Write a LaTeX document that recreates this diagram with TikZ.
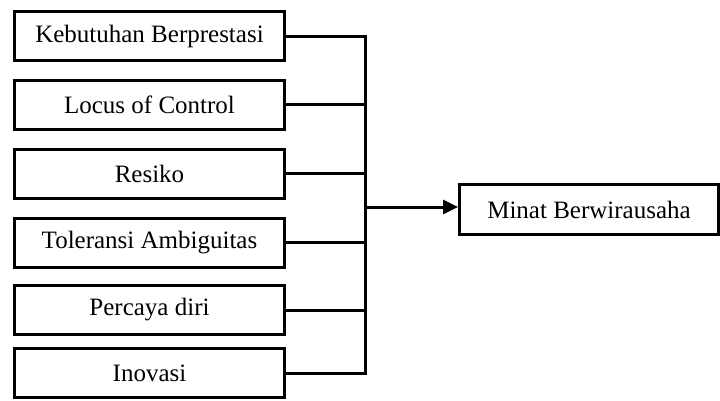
\documentclass[tikz,border=0pt]{standalone}
\usepackage{fontspec}
\setmainfont{Liberation Serif}
\usetikzlibrary{arrows.meta,positioning}
\tikzset{
    faktor/.style={draw, line width=3pt, minimum width=270pt, minimum height=49pt, inner sep=0pt, font=\fontsize{25}{28}\selectfont},
    hasil/.style={draw, line width=3pt, minimum width=259pt, minimum height=50pt, inner sep=0pt, font=\fontsize{25}{28}\selectfont},
    garis/.style={line width=3pt},
    panah/.style={-{Triangle[length=15pt, width=14pt]}, line width=3pt}
}
\begin{document}
\begin{tikzpicture}[x=1pt, y=-1pt]
                    \useasboundingbox (0,0) rectangle (720,400);
                    \node[faktor] (kebutuhan) at (149.5,36) {Kebutuhan Berprestasi};
                    \node[faktor, below=16.5pt of kebutuhan] (locus) {Locus of Control};
                    \node[faktor, below=17pt of locus] (resiko) {Resiko};
                    \node[faktor, below=17pt of resiko] (toleransi) {Toleransi Ambiguitas};
                    \node[faktor, below=15.5pt of toleransi] (percaya) {Percaya diri};
                    \node[faktor, below=11pt of percaya] (inovasi) {Inovasi};
                    \node[hasil] (minat) at (589,209.5) {Minat Berwirausaha};
                    \coordinate (bus) at (365,207);

                    \foreach \n in {kebutuhan,locus,resiko,toleransi,percaya,inovasi}
                        \draw[garis] (\n.east) -- (\n.east -| bus);
                    \draw[garis] ([yshift=1.5pt]kebutuhan.east -| bus) -- ([yshift=-1.5pt]inovasi.east -| bus);
                    \draw[panah] (bus) -- (bus -| minat.west);
                \end{tikzpicture}
\end{document}
